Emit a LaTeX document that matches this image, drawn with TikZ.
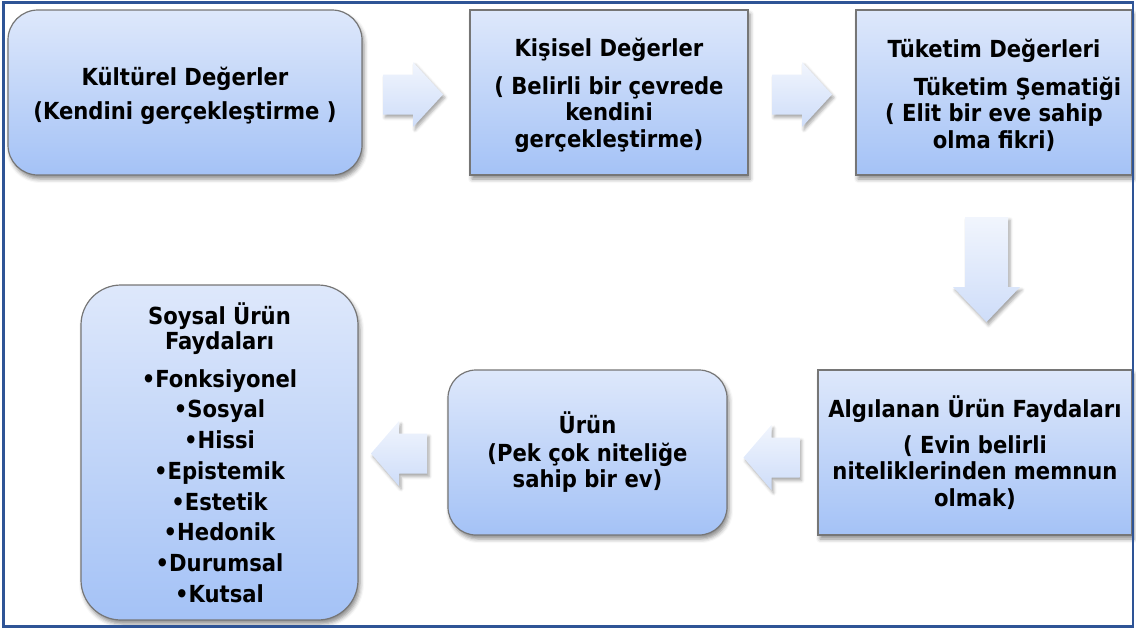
\documentclass[tikz,border=0pt]{standalone}
\usepackage{fontspec}
\setmainfont{DejaVu Sans Condensed}
\usetikzlibrary{shadows.blur,calc}

\definecolor{frameblue}{RGB}{46,84,150}
\definecolor{boxtop}{RGB}{222,232,251}
\definecolor{boxbot}{RGB}{164,194,246}
\definecolor{arrtop}{RGB}{241,245,253}
\definecolor{arrbot}{RGB}{206,221,249}
\definecolor{boxline}{RGB}{118,118,118}

% extra height on a first line, to lower a text block a little
\newcommand\firststrut[1]{\rule{0pt}{#1}}

\begin{document}
\begin{tikzpicture}[x=1pt,y=-1pt,
  softshadow/.style={blur shadow={shadow xshift=2pt, shadow yshift=-4pt,
      shadow blur radius=4pt, shadow opacity=45}},
  box/.style={draw=boxline, line width=1.2pt, top color=boxtop,
      bottom color=boxbot, align=center, inner sep=0pt, softshadow,
      font=\bfseries\fontsize{23.5}{26.5}\selectfont},
  roundbox/.style={box, rounded corners=30pt},
  barrow/.style={top color=arrtop, bottom color=arrbot,
      blur shadow={shadow xshift=2pt, shadow yshift=-3pt,
      shadow blur radius=3pt, shadow opacity=35}},
  pics/rarrow/.style={code={
    \path[barrow] (-30,-20) -- (0,-20) -- (0,-32.5) -- (30,0)
      -- (0,32.5) -- (0,20) -- (-30,20) -- cycle;}},
  pics/larrow/.style={code={
    \path[barrow] (28,-20) -- (0,-20) -- (0,-32.5) -- (-28,0)
      -- (0,32.5) -- (0,20) -- (28,20) -- cycle;}},
  pics/darrow/.style={code={
    \path[barrow] (-21.5,-52.5) -- (21.5,-52.5) -- (21.5,17.5)
      -- (33.5,17.5) -- (0,52.5) -- (-33.5,17.5) -- (-21.5,17.5) -- cycle;}}
]
\useasboundingbox (0,0) rectangle (1136,630);

% upper row
\node[roundbox, minimum width=354pt, minimum height=165pt] (kultur) at (185,92.5)
  {\firststrut{25pt}Kültürel Değerler\\[8pt](Kendini gerçekleştirme )};
\node[box, minimum width=278pt, minimum height=165pt] (kisisel) at (609,92.5)
  {\firststrut{24pt}Kişisel Değerler\\[11pt]( Belirli bir çevrede\\kendini\\gerçekleştirme)};
\node[box, minimum width=276pt, minimum height=165pt] (tuketim) at (994,92.5)
  {\firststrut{24pt}Tüketim Değerleri\\[11pt]\hspace*{2em}Tüketim Şematiği\\( Elit bir eve sahip\\olma fikri)};

% lower row
\node[box, minimum width=314pt, minimum height=165pt] (algi) at (975,452.5)
  {\firststrut{20pt}Algılanan Ürün Faydaları\\[9pt]( Evin belirli\\niteliklerinden memnun\\olmak)};
\node[roundbox, rounded corners=28pt, minimum width=279pt, minimum height=165pt] (urun) at (587.5,452.5)
  {Ürün\\[1pt](Pek çok niteliğe\\sahip bir ev)};
\node[roundbox, rounded corners=40pt, minimum width=277pt, minimum height=335pt] (soysal) at (219.5,452.5)
  {\firststrut{20pt}Soysal Ürün\\[-1pt]Faydaları\\[11pt]•Fonksiyonel\\[4.2pt]•Sosyal\\[4.2pt]•Hissi\\[4.2pt]•Epistemik\\[4.2pt]•Estetik\\[4.2pt]•Hedonik\\[4.2pt]•Durumsal\\[4.2pt]•Kutsal};

% block arrows between the boxes
\pic at ($(kultur.east)!0.5!(kisisel.west)+(-3,2)$) {rarrow};
\pic at ($(kisisel.east)!0.5!(tuketim.west)+(0,2)$) {rarrow};
\pic at ($(tuketim.south)!0.5!(algi.north)+(2,-3)$) {darrow};
\pic at ($(algi.west)!0.5!(urun.east)+(-1,5)$) {larrow};
\pic at ($(urun.west)!0.5!(soysal.east)+(-4,1)$) {larrow};

% outer frame
\draw[frameblue, line width=2.5pt] (3.5,2.5) rectangle (1133,626.5);
\end{tikzpicture}
\end{document}
